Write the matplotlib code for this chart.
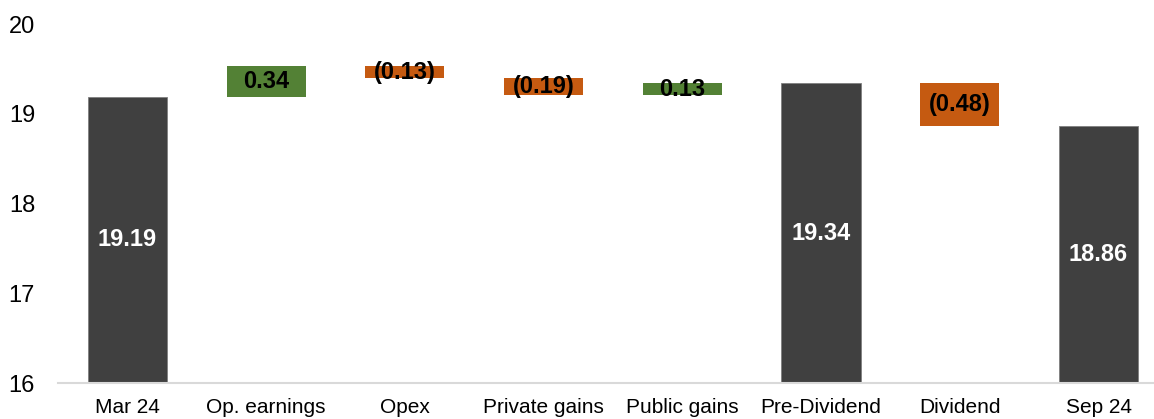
import matplotlib
matplotlib.use("Agg")
import matplotlib.pyplot as plt

plt.rcParams['font.family'] = ['Liberation Sans', 'DejaVu Sans']

# NAV bridge, Mar 24 -> Sep 24
categories = ["Mar 24", "Op. earnings", "Opex", "Private gains", "Public gains",
              "Pre-Dividend", "Dividend", "Sep 24"]
kinds = ["total", "delta", "delta", "delta", "delta", "total", "delta", "total"]
values = [19.19, 0.34, -0.13, -0.19, 0.13, 19.34, -0.48, 18.86]

total_color = "#404040"
up_color = "#538135"
down_color = "#C55A11"
y_floor = 16

fig = plt.figure(figsize=(11.54, 4.19), dpi=100)
ax = fig.add_axes([58 / 1154, 36 / 419, 1096 / 1154, 359 / 419])

running = 0.0
for i, (kind, v) in enumerate(zip(kinds, values)):
    if kind == "total":
        running = v
        ax.bar(i, v - y_floor, bottom=y_floor, width=0.57, color=total_color,
               edgecolor="#7f7f7f", linewidth=0.6)
        ax.text(i, (y_floor + v) / 2, f"{v:.2f}", ha="center", va="center",
                color="white", fontsize=17, fontweight="bold")
    else:
        start = running
        running = running + v
        color = up_color if v > 0 else down_color
        ax.bar(i, v, bottom=start, width=0.57, color=color, linewidth=0)
        label = f"{v:.2f}" if v > 0 else f"({abs(v):.2f})"
        ax.text(i, start + v / 2, label, ha="center", va="center",
                color="black", fontsize=17, fontweight="bold")

ax.set_xlim(-0.5, 7.4)
ax.set_ylim(16, 20)
ax.set_yticks([16, 17, 18, 19, 20])
ax.set_xticks(range(len(categories)))
ax.set_xticklabels(categories)
ax.tick_params(axis="y", length=0, pad=16.5, labelsize=17)
ax.tick_params(axis="x", length=0, pad=11, labelsize=15)
for side in ["top", "right", "left"]:
    ax.spines[side].set_visible(False)
ax.spines["bottom"].set_color("#d9d9d9")
ax.spines["bottom"].set_linewidth(1.5)

fig.savefig("out.png", dpi=100)
